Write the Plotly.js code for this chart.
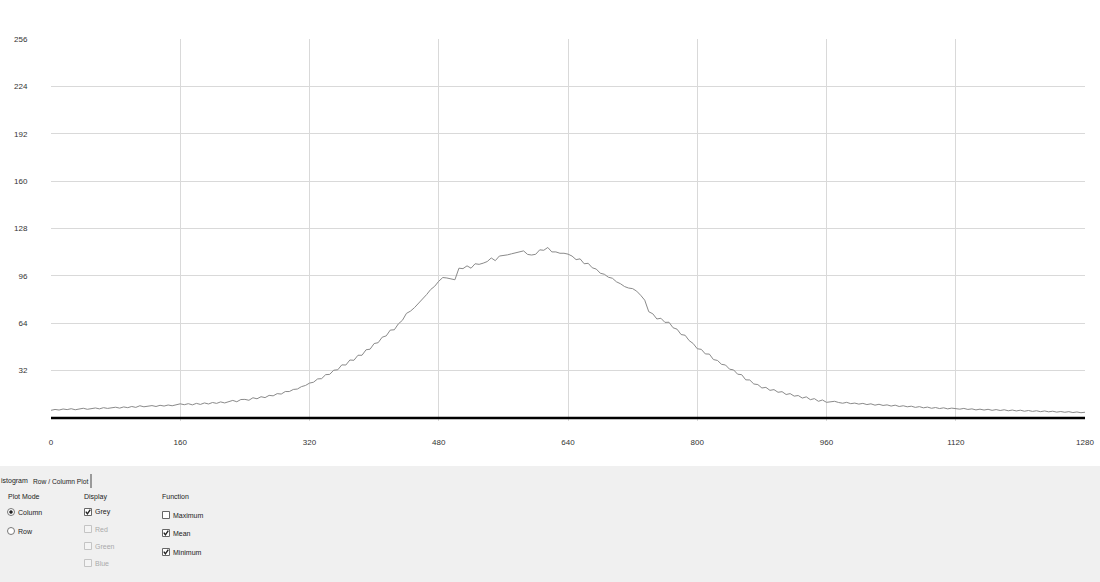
<!DOCTYPE html>
<html>
<head>
<meta charset="utf-8">
<script src="https://cdn.plot.ly/plotly-3.0.1.min.js"></script>
<style>
html,body{margin:0;padding:0;background:#fff;}
#chart{width:1100px;height:582px;}
</style>
</head>
<body>
<div id="chart"></div>
<script>
// ---- data ----
const xStart = 0;
const xStep = 5;
const meanValues = [
 5.2,5.8,5.4,6.1,5.7,6.3,5.6,6.0,6.6,5.9,6.4,6.8,6.2,7.0,6.5,6.9,7.3,6.7,7.5,7.0,7.8,7.2,8.3,7.6,7.9,8.4,7.8,8.6,8.1,8.8,8.3,9.0,9.6,
 9.0,9.7,8.9,9.9,9.2,10.2,9.5,10.5,9.9,10.9,10.2,11.3,11.9,11.0,12.5,12.6,12.0,13.7,13.0,14.4,13.8,15.3,15.0,16.5,16.2,17.9,17.9,19.3,19.6,21.2,22.0,23.6,
 24.2,26.4,26.6,29.3,29.5,32.3,32.6,35.9,35.8,39.2,39.0,42.4,42.4,46.1,46.5,50.3,50.9,54.6,55.5,59.4,59.6,63.6,66.0,70.7,72.2,74.6,77.3,80.7,83.4,86.8,89.0,92.4,
 94.9,94.6,93.8,93.4,101.2,100.9,102.8,101.2,104.2,103.8,104.6,105.7,108.1,106.3,109.4,109.6,110.2,110.9,111.6,112.2,112.9,110.5,110.1,110.6,113.6,113.3,115.2,112.2,112.2,111.3,111.3,110.7,
 109.4,107.0,107.5,104.2,104.5,101.5,100.6,97.8,97.1,95.1,94.4,92.0,90.7,88.8,87.8,87.4,85.7,82.9,79.6,71.8,70.4,66.9,67.4,64.6,64.7,61.0,60.0,56.4,55.9,52.3,50.3,46.8,
 46.4,43.3,43.2,39.5,38.9,36.3,35.8,33.0,32.5,29.6,29.3,25.8,25.7,23.0,22.6,20.3,20.7,18.7,19.2,17.4,17.8,15.9,16.5,14.8,15.2,13.5,14.3,12.4,13.1,11.3,12.2,10.6,
 10.8,11.3,10.5,10.0,10.6,9.7,10.1,9.4,9.9,9.1,9.6,8.7,9.3,8.5,8.9,8.1,8.7,7.8,8.3,7.6,8.0,7.2,7.7,6.9,7.4,6.6,7.1,6.4,6.9,6.2,6.7,6.4,
 6.0,6.5,5.8,6.2,5.5,6.0,5.4,5.9,5.2,5.7,5.1,5.6,4.9,5.4,4.8,5.3,4.6,5.1,4.5,4.9,4.3,4.8,4.2,4.6,4.0,4.4,3.9,4.3,3.7,4.1,3.6,3.9
];
const minX = [0, 1280];
const minValues = [0, 0];
const xTicks = [0,160,320,480,640,800,960,1120,1280];
const xGrid = [160,320,480,640,800,960,1120];
const yTicks = [32,64,96,128,160,192,224,256];
const yGrid = [32,64,96,128,160,192,224];

const meanX = meanValues.map((v,i)=>xStart + i*xStep);

// ---- geometry helpers (for the panel UI) ----
const W=1100,H=582,L=51,R=15,T=39,B=161;
const pw=W-L-R, ph=H-T-B;
const X=px=>(px-L)/pw, Y=py=>(H-B-py)/ph;

const FONT='Liberation Sans, Arial, sans-serif';

const shapes=[];
const annotations=[];
shapes.push({type:'rect',xref:'paper',yref:'paper',x0:X(-5),x1:X(1105),y0:Y(466),y1:Y(590),
  fillcolor:'#f0f0f0',line:{width:0},layer:'below'});
shapes.push({type:'line',xref:'paper',yref:'paper',x0:X(91),x1:X(91),y0:Y(474),y1:Y(488),
  line:{color:'#444',width:1}});

function txt(t,px,py,opt={}){
  annotations.push({text:t,xref:'paper',yref:'paper',x:X(px),y:Y(py),showarrow:false,
    xanchor:opt.anchor||'left',yanchor:'middle',borderpad:0,
    font:{family:FONT,size:opt.size||7,color:opt.color||'#222'}});
}
function radio(cx,cy,sel){
  shapes.push({type:'circle',xref:'paper',yref:'paper',x0:X(cx-3.5),x1:X(cx+3.5),y0:Y(cy+3.5),y1:Y(cy-3.5),
    fillcolor:'#fff',line:{color:'#777',width:1}});
  if(sel) shapes.push({type:'circle',xref:'paper',yref:'paper',x0:X(cx-1.5),x1:X(cx+1.5),y0:Y(cy+1.5),y1:Y(cy-1.5),
    fillcolor:'#222',line:{color:'#222',width:0.5}});
}
function check(cx,cy,checked,disabled){
  shapes.push({type:'rect',xref:'paper',yref:'paper',x0:X(cx-3.5),x1:X(cx+3.5),y0:Y(cy+3.5),y1:Y(cy-3.5),
    fillcolor:disabled?'#f4f4f4':'#fff',line:{color:disabled?'#c4c4c4':'#666',width:1}});
  if(checked) shapes.push({type:'path',xref:'paper',yref:'paper',
    path:`M ${X(cx-2.2)} ${Y(cy-0.3)} L ${X(cx-0.6)} ${Y(cy+1.8)} L ${X(cx+2.3)} ${Y(cy-2.3)}`,
    line:{color:'#222',width:1.4}});
}
txt('istogram',0,481);
txt('Row / Column Plot',32,481,{size:6.7});
txt('Plot Mode',7,497);
radio(11,512,true); txt('Column',17,512);
radio(11,531,false); txt('Row',17,531);
txt('Display',83,497);
check(88,512,true,false); txt('Grey',94,512);
check(88,529,false,true); txt('Red',94,529,{color:'#aaa'});
check(88,546,false,true); txt('Green',94,546,{color:'#aaa'});
check(88,563,false,true); txt('Blue',94,563,{color:'#aaa'});
txt('Function',161,497);
check(166,515,false,false); txt('Maximum',172,515);
check(166,533,true,false); txt('Mean',172,533);
check(166,552,true,false); txt('Minimum',172,552);

const traces=[
  {x:meanX,y:meanValues,type:'scatter',mode:'lines',name:'Mean',
   line:{color:'#8a8a8a',width:1},xaxis:'x',yaxis:'y',hoverinfo:'skip'},
  {x:minX,y:minValues,type:'scatter',mode:'lines',name:'Minimum',
   line:{color:'#000',width:2.6},xaxis:'x2',yaxis:'y2',hoverinfo:'skip'}
];

const layout={
  width:W,height:H,
  margin:{l:L,r:R,t:T,b:B,pad:0},
  paper_bgcolor:'#fff',plot_bgcolor:'rgba(0,0,0,0)',
  showlegend:false,
  font:{family:FONT,size:8,color:'#333'},
  xaxis:{range:[0,1280],tickvals:xTicks,ticktext:xTicks.map(String),showgrid:false,zeroline:false,
    showline:false,ticks:'outside',ticklen:13,tickcolor:'rgba(0,0,0,0)',
    tickfont:{family:FONT,size:8,color:'#333'},fixedrange:true},
  yaxis:{range:[-2,256],tickvals:yTicks,ticktext:yTicks.map(String),showgrid:false,zeroline:false,
    showline:false,ticks:'outside',ticklen:21,tickcolor:'rgba(0,0,0,0)',
    tickfont:{family:FONT,size:8,color:'#333'},fixedrange:true},
  xaxis2:{overlaying:'x',range:[0,1280],tickvals:xGrid,showticklabels:false,ticks:'',
    showgrid:true,gridcolor:'#d9d9d9',gridwidth:1,zeroline:false,showline:false,fixedrange:true},
  yaxis2:{overlaying:'y',range:[-2,256],tickvals:yGrid,showticklabels:false,ticks:'',
    showgrid:true,gridcolor:'#d9d9d9',gridwidth:1,zeroline:false,showline:false,fixedrange:true},
  shapes:shapes,
  annotations:annotations
};

Plotly.newPlot('chart',traces,layout,{staticPlot:true,displayModeBar:false});
</script>
</body>
</html>
